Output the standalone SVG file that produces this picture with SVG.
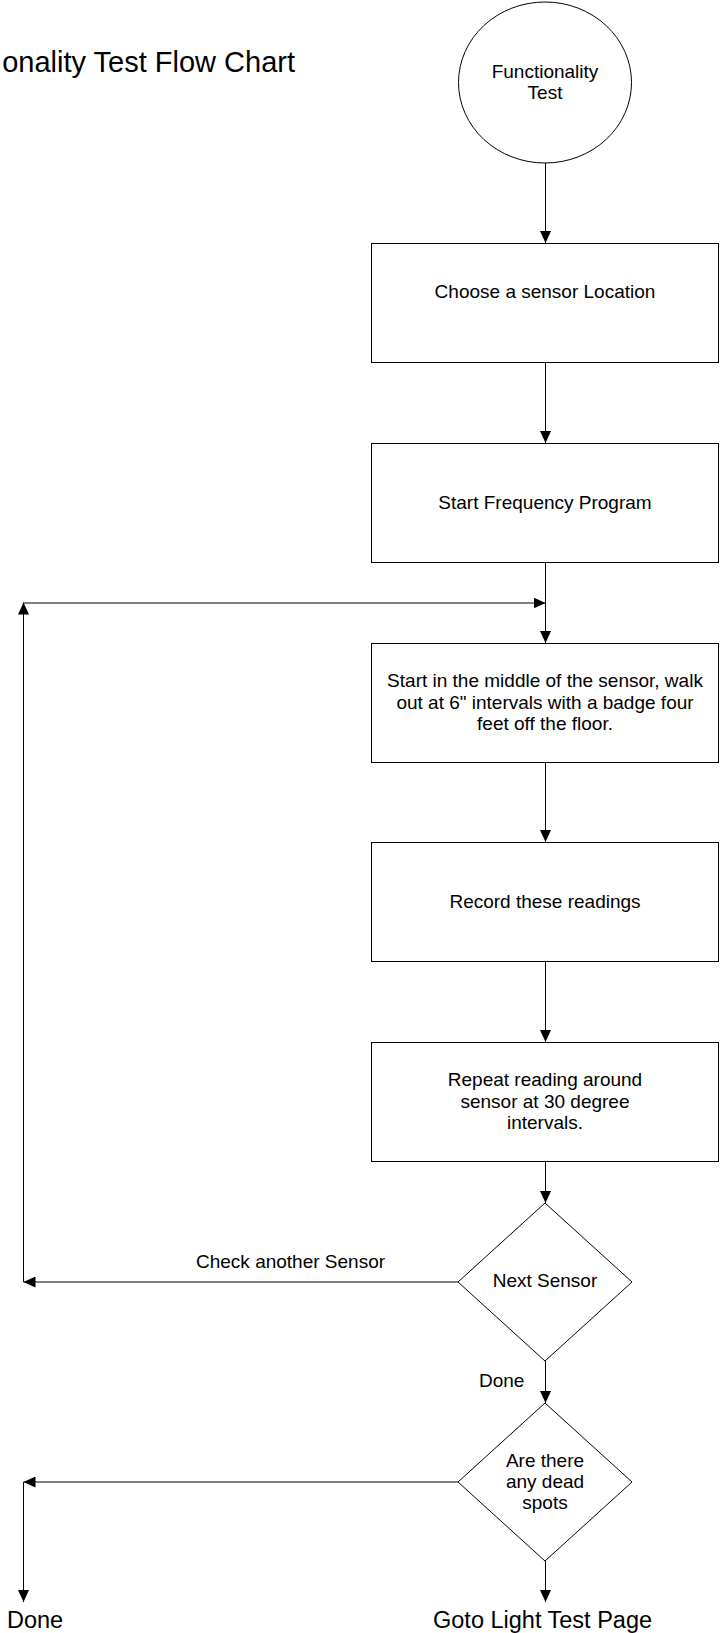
<svg xmlns="http://www.w3.org/2000/svg" width="720" height="1633" viewBox="0 0 720 1633">
<style>
  .shape { fill: #ffffff; stroke: #000000; stroke-width: 1; }
  .conn { fill: none; stroke: #000000; stroke-width: 1; }
  text { font-family: "Liberation Sans", Arial, sans-serif; fill: #000000; }
  .t { font-size: 19px; text-anchor: middle; }
  .lbl { font-size: 19px; }
  .big { font-size: 23.5px; }
  .title { font-size: 29px; }
</style>
<defs>
  <marker id="arrow" markerUnits="userSpaceOnUse" markerWidth="12" markerHeight="11" refX="12" refY="5.5" orient="auto">
    <path d="M0,0 L12,5.5 L0,11 z" fill="#000000"/>
  </marker>
</defs>
<rect width="720" height="1633" fill="#ffffff"/>

<g id="title">
  <text class="title" x="295" y="72" text-anchor="end">onality Test Flow Chart</text>
</g>

<g id="connectors">
  <line class="conn" x1="545.5" y1="163" x2="545.5" y2="243" marker-end="url(#arrow)"/>
  <line class="conn" x1="545.5" y1="363" x2="545.5" y2="443" marker-end="url(#arrow)"/>
  <line class="conn" x1="545.5" y1="562" x2="545.5" y2="643" marker-end="url(#arrow)"/>
  <line class="conn" x1="23.5" y1="603" x2="545.5" y2="603" marker-end="url(#arrow)"/>
  <line class="conn" x1="545.5" y1="763" x2="545.5" y2="842" marker-end="url(#arrow)"/>
  <line class="conn" x1="545.5" y1="962" x2="545.5" y2="1042" marker-end="url(#arrow)"/>
  <line class="conn" x1="545.5" y1="1162" x2="545.5" y2="1203" marker-end="url(#arrow)"/>
  <line class="conn" x1="458" y1="1282" x2="23.5" y2="1282" marker-end="url(#arrow)"/>
  <line class="conn" x1="23.5" y1="1282" x2="23.5" y2="602.5" marker-end="url(#arrow)"/>
  <line class="conn" x1="545.5" y1="1361" x2="545.5" y2="1403" marker-end="url(#arrow)"/>
  <line class="conn" x1="458" y1="1482" x2="23.5" y2="1482" marker-end="url(#arrow)"/>
  <line class="conn" x1="23.5" y1="1482" x2="23.5" y2="1602" marker-end="url(#arrow)"/>
  <line class="conn" x1="545.5" y1="1561" x2="545.5" y2="1602" marker-end="url(#arrow)"/>
  <text class="lbl" x="196" y="1268">Check another Sensor</text>
  <text class="lbl" x="479" y="1387">Done</text>
</g>

<g id="start">
  <ellipse class="shape" cx="545" cy="82.5" rx="86.5" ry="80.5"/>
  <text class="t" x="545" y="78">Functionality</text>
  <text class="t" x="545" y="99">Test</text>
</g>

<g id="choose-location">
  <rect class="shape" x="371.5" y="243.5" width="347" height="119"/>
  <text class="t" x="545" y="298">Choose a sensor Location</text>
</g>

<g id="start-program">
  <rect class="shape" x="371.5" y="443.5" width="347" height="119"/>
  <text class="t" x="545" y="509">Start Frequency Program</text>
</g>

<g id="walk-out">
  <rect class="shape" x="371.5" y="643.5" width="347" height="119"/>
  <text class="t" x="545" y="687">Start in the middle of the sensor, walk</text>
  <text class="t" x="545" y="708.5">out at 6" intervals with a badge four</text>
  <text class="t" x="545" y="730">feet off the floor.</text>
</g>

<g id="record">
  <rect class="shape" x="371.5" y="842.5" width="347" height="119"/>
  <text class="t" x="545" y="908">Record these readings</text>
</g>

<g id="repeat">
  <rect class="shape" x="371.5" y="1042.5" width="347" height="119"/>
  <text class="t" x="545" y="1086">Repeat reading around</text>
  <text class="t" x="545" y="1107.5">sensor at 30 degree</text>
  <text class="t" x="545" y="1129">intervals.</text>
</g>

<g id="next-sensor">
  <polygon class="shape" points="545,1203 632,1282 545,1361 458,1282"/>
  <text class="t" x="545" y="1287">Next Sensor</text>
</g>

<g id="dead-spots">
  <polygon class="shape" points="545,1403 632,1482 545,1561 458,1482"/>
  <text class="t" x="545" y="1467">Are there</text>
  <text class="t" x="545" y="1487.5">any dead</text>
  <text class="t" x="545" y="1508.5">spots</text>
</g>

<g id="end-done">
  <text class="big" x="7" y="1628">Done</text>
</g>

<g id="goto-light">
  <text class="big" x="433" y="1628">Goto Light Test Page</text>
</g>
</svg>
